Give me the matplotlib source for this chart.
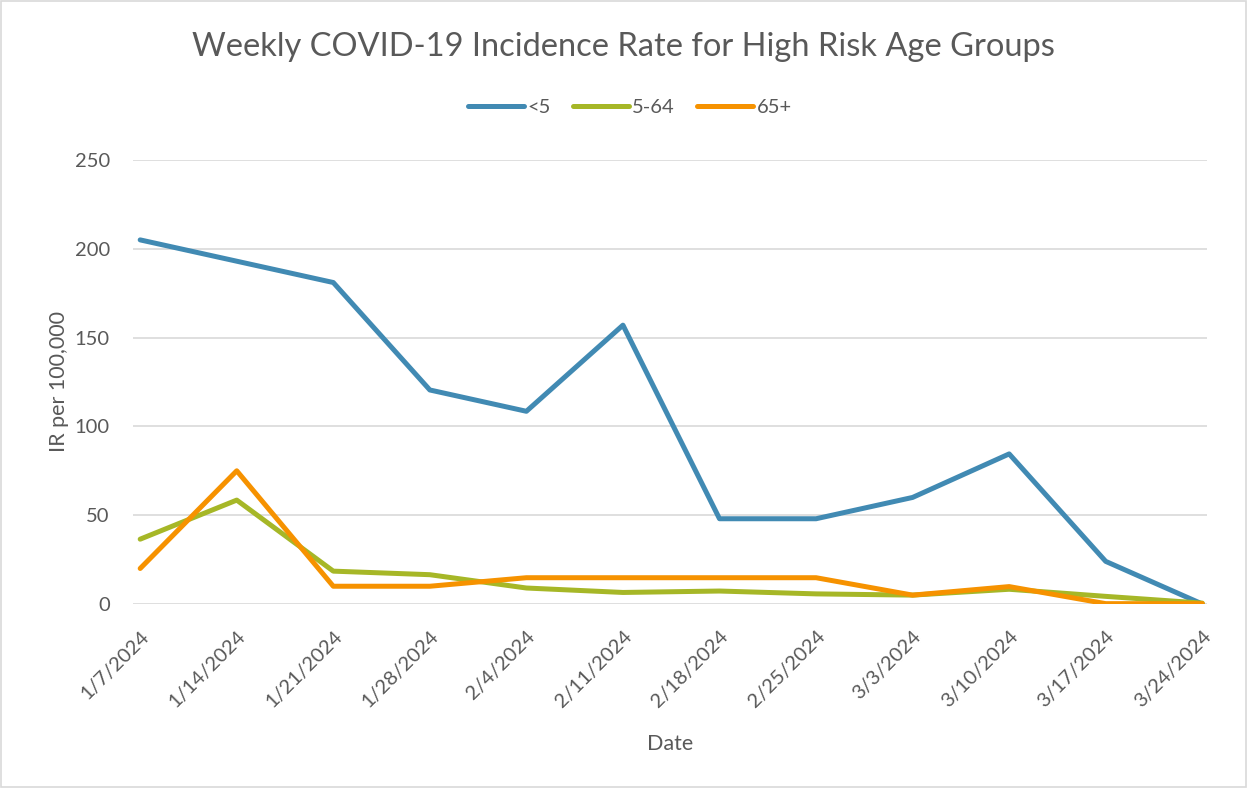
import numpy as np
import matplotlib.pyplot as plt

plt.rcParams['font.family'] = ['Lato', 'DejaVu Sans']

dates = ["1/7/2024", "1/14/2024", "1/21/2024", "1/28/2024", "2/4/2024", "2/11/2024",
         "2/18/2024", "2/25/2024", "3/3/2024", "3/10/2024", "3/17/2024", "3/24/2024"]
under5 = [205, 193, 181, 120.5, 108.5, 157, 48, 48, 60, 84.5, 24, 0]
age5_64 = [36.5, 58.5, 18.5, 16.5, 9, 6.5, 7.3, 5.7, 5, 8.3, 4.3, 0.5]
age65 = [20, 75, 10, 10, 14.8, 14.8, 14.8, 14.8, 5, 9.8, 0.2, 0.2]

grey = '#595959'
fig = plt.figure(figsize=(12.47, 7.88), dpi=100)
ax = fig.add_axes([0.107, 0.2335, 0.861, 0.5635])

x = np.arange(len(dates))
ax.plot(x, under5, color='#418AB3', lw=3.6, label='<5', solid_capstyle='round')
ax.plot(x, age5_64, color='#A6B727', lw=3.6, label='5-64', solid_capstyle='round')
ax.plot(x, age65, color='#F69200', lw=3.6, label='65+', solid_capstyle='round')

ax.set_ylim(0, 250)
ax.set_yticks([0, 50, 100, 150, 200, 250])
ax.set_xlim(-0.07, len(dates) - 1 + 0.05)
ax.set_xticks(x)
ax.set_xticklabels(dates, rotation=45, ha='right', rotation_mode='anchor')
ax.tick_params(axis='both', length=0, labelsize=14.5, colors=grey)
ax.tick_params(axis='y', pad=17)
ax.tick_params(axis='x', pad=17)
ax.grid(axis='y', color='#d9d9d9', lw=1.2)
ax.set_axisbelow(True)
for s in ax.spines.values():
    s.set_visible(False)

ax.set_ylabel('IR per 100,000', fontsize=15.5, color=grey, labelpad=4)
ax.set_xlabel('Date', fontsize=15.5, color=grey, labelpad=17)

fig.suptitle('Weekly COVID-19 Incidence Rate for High Risk Age Groups',
             fontsize=23.5, color=grey, y=0.96)
fig.legend(loc='center', bbox_to_anchor=(0.505, 0.864), ncol=3, frameon=False,
           fontsize=14.5, handlelength=2.8, handletextpad=0.15, columnspacing=1.1,
           labelcolor=grey)

fig.patches.append(plt.Rectangle((0.001, 0.001), 0.998, 0.998, transform=fig.transFigure,
                                 fill=False, edgecolor='#d9d9d9', lw=1.2))
fig.savefig('out.png', dpi=100)
